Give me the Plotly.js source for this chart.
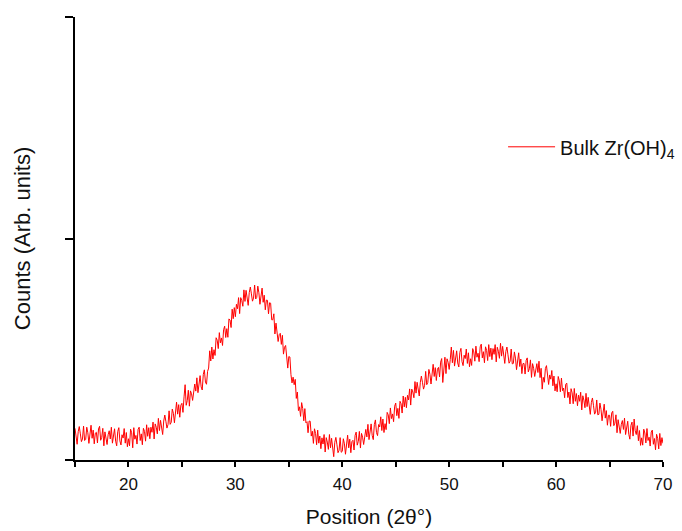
<!DOCTYPE html>
<html>
<head>
<meta charset="utf-8">
<script src="https://cdn.plot.ly/plotly-3.0.1.min.js"></script>
<style>html,body{margin:0;padding:0;background:#fff;}#chart{width:682px;height:531px;}</style>
</head>
<body>
<div id="chart"></div>
<script>
// 2θ grid: start and step (degrees)
const twoThetaStart = 15;
const twoThetaStep = 0.1;

// Counts (arbitrary units), one value per 0.1°, 15.0° ... 70.0°
const counts = [
  143,103,71,128,151,118,83,95,153,88,
  93,148,123,75,108,157,98,135,73,121,
  125,77,140,152,89,102,143,64,127,106,
  70,114,132,95,148,76,121,141,85,64,
  129,146,86,68,114,99,142,76,124,60,
  96,64,139,123,55,146,94,111,72,138,
  148,88,118,69,143,129,85,159,107,146,
  96,148,125,171,95,163,148,118,188,133,
  179,143,115,176,203,175,144,160,222,161,
  170,230,211,168,207,261,207,250,193,247,
  256,215,285,340,247,268,315,243,312,299,
  269,318,343,311,371,304,354,381,330,316,
  386,407,352,342,400,415,493,447,510,456,
  498,472,552,541,503,575,529,551,517,588,
  604,553,593,554,637,632,598,681,638,688,
  647,703,683,733,661,733,720,694,768,716,
  766,728,698,756,781,750,717,731,790,727,
  734,785,755,703,731,776,712,744,678,722,
  721,660,710,708,633,633,660,569,618,585,
  535,566,572,522,563,478,509,517,448,415,
  467,465,385,348,374,340,364,278,307,223,
  240,197,259,232,177,232,168,173,123,176,
  175,108,130,75,141,120,69,135,76,108,
  51,100,72,115,36,101,81,48,115,55,
  98,57,15,80,102,69,33,44,101,35,
  39,96,73,26,61,112,55,94,33,83,
  89,45,111,126,67,84,129,54,120,103,
  70,117,138,104,161,92,139,163,110,92,
  160,181,124,110,160,149,195,133,185,124,
  164,137,215,204,164,235,187,208,173,243,
  257,200,233,188,265,254,212,289,240,283,
  236,292,271,321,248,320,307,281,354,302,
  351,316,289,351,379,351,320,337,400,340,
  350,409,387,343,379,432,377,417,359,410,
  418,375,442,458,350,419,464,390,457,441,
  409,454,510,439,495,424,470,493,438,420,
  486,504,444,426,473,458,501,436,484,421,
  457,427,503,488,446,514,464,482,444,511,
  523,461,489,439,511,495,449,521,467,505,
  453,503,477,521,443,509,491,459,527,469,
  513,470,436,490,510,475,437,446,501,434,
  436,488,460,408,438,484,422,456,390,435,
  436,388,450,461,398,412,452,373,435,414,
  377,418,435,395,446,372,414,320,373,351,
  413,426,363,341,384,365,404,335,379,312,
  344,308,377,357,308,370,313,325,281,342,
  347,282,307,253,322,303,254,323,265,300,
  245,293,265,306,226,290,270,236,301,241,
  283,240,206,260,280,245,207,216,271,204,
  206,257,229,177,207,252,189,223,157,202,
  202,152,212,220,155,166,204,123,182,159,
  120,161,178,138,189,115,157,175,116,94,
  156,171,108,185,132,115,155,87,133,66,
  100,67,139,122,77,142,88,103,63,126,
  135,71,97,46,116,98,50,120,65,101,
  75
];

const seriesName = 'Bulk Zr(OH)<sub>4</sub>';
const xTitle = 'Position (2θ°)';
const yTitle = 'Counts (Arb. units)';
const xTickVals = [20, 30, 40, 50, 60, 70];
const yTickVals = [0, 1000, 2000];

const font = 'Arial, "Liberation Sans", sans-serif';

const trace = {
  type: 'scatter',
  mode: 'lines',
  x0: twoThetaStart,
  dx: twoThetaStep,
  y: counts,
  name: seriesName,
  line: {color: '#ff0000', width: 1},
  showlegend: true
};

const layout = {
  width: 682,
  height: 531,
  margin: {l: 75, r: 19, t: 17, b: 71, autoexpand: false},
  paper_bgcolor: '#ffffff',
  plot_bgcolor: '#ffffff',
  font: {family: font, color: '#000000'},
  showlegend: true,
  legend: {
    x: 0.728, y: 0.707, xanchor: 'left', yanchor: 'middle',
    bgcolor: 'rgba(0,0,0,0)', borderwidth: 0,
    font: {family: font, size: 20, color: '#111'},
    itemwidth: 47
  },
  xaxis: {
    range: [15, 70],
    tickvals: xTickVals,
    ticks: 'outside', ticklen: 5, tickwidth: 2, tickcolor: '#000',
    minor: {dtick: 5, tick0: 0, ticks: 'outside', ticklen: 5, tickwidth: 2, tickcolor: '#000'},
    showline: true, linecolor: '#000', linewidth: 2,
    showgrid: false, zeroline: false,
    tickfont: {family: font, size: 17, color: '#111'},
    ticklabelstandoff: 3,
    title: {text: xTitle, font: {family: font, size: 21, color: '#111'}, standoff: 16},
    automargin: false, fixedrange: true
  },
  yaxis: {
    range: [0, 2000],
    tickvals: yTickVals,
    showticklabels: false,
    ticks: 'outside', ticklen: 8, tickwidth: 2, tickcolor: '#000',
    showline: true, linecolor: '#000', linewidth: 2,
    showgrid: false, zeroline: false,
    title: {text: yTitle, font: {family: font, size: 22, color: '#111'}, standoff: 28},
    automargin: false, fixedrange: true
  }
};

Plotly.newPlot('chart', [trace], layout, {displayModeBar: false, staticPlot: true});
</script>
</body>
</html>
